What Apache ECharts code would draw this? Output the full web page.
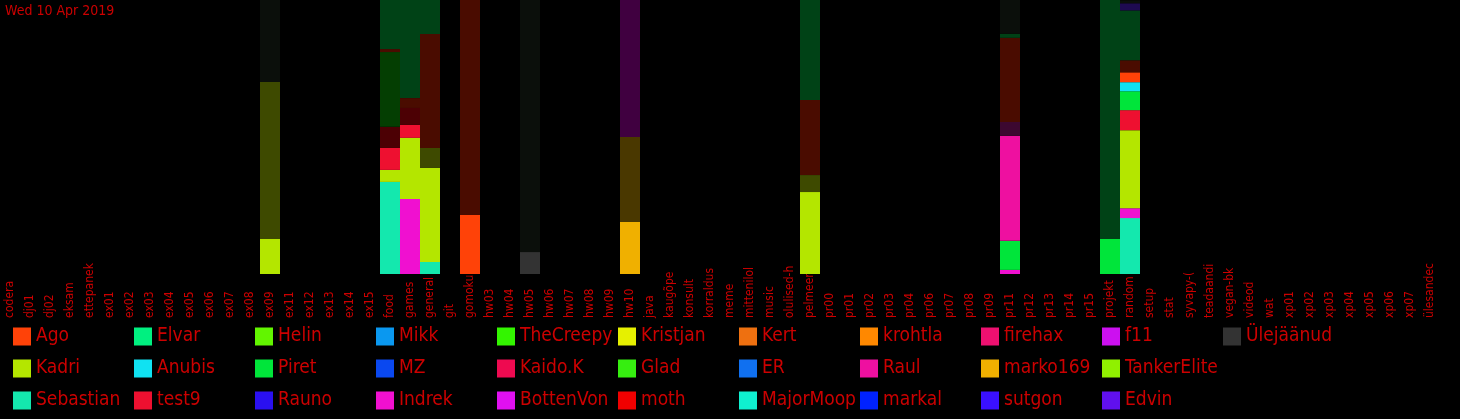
<!DOCTYPE html>
<html>
<head>
<meta charset="utf-8">
<script src="https://cdn.jsdelivr.net/npm/echarts@6/dist/echarts.min.js"></script>
<style>
html,body{margin:0;padding:0;background:#000;}
#chart{width:1460px;height:419px;}
</style>
</head>
<body>
<div id="chart"></div>
<script>
// ---- categories (x axis) ----
const categories = ["codera","dj01","dj02","eksam","ettepanek","ex01","ex02","ex03","ex04","ex05","ex06","ex07","ex08","ex09","ex11","ex12","ex13","ex14","ex15","food","games","general","git","gomoku","hw03","hw04","hw05","hw06","hw07","hw08","hw09","hw10","java","kaugõpe","konsult","korraldus","meme","mittenilol","music","olulised-h","pelmeeni","pr00","pr01","pr02","pr03","pr04","pr06","pr07","pr08","pr09","pr11","pr12","pr13","pr14","pr15","projekt","random","setup","stat","syvapy-(","teadaandi","vegan-bk","videod","wat","xp01","xp02","xp03","xp04","xp05","xp06","xp07","ülesandec"];

// ---- legend users & colours ----
const users = ["Ago","Kadri","Sebastian","Elvar","Anubis","test9","Helin","Piret","Rauno","Mikk","MZ","Indrek","TheCreepySh","Kaido.K","BottenVonBot","Kristjan","Glad","moth","Kert","ER","MajorMoopsy","krohtla","Raul","markal","firehax","marko169","sutgon","f11","TankerElite","Edvin","Ülejäänud"];
const userColors = ["#ff4208","#b4e600","#14e8ae","#00f080","#10e2f2","#ee1030","#62f500","#00e53a","#2a10f0","#0a98f0","#0a48f0","#f010d0","#33f500","#ee0a50","#e010f0","#e6f000","#36ee10","#f00000","#ee7010","#1070f0","#0ff0d0","#ff8800","#ee10a0","#0022ff","#ee1070","#f0b000","#3a10ff","#cc10f0","#90f000","#6010ee","#333333"];

// ---- bright segments (% of bar) ----
const sebastianNow = [["food",33.6],["general",4.4],["random",20.4]];
const indrekNow    = [["games",27.4],["pr11",1.5],["random",3.6]];
const kadriNow     = [["ex09",12.8],["food",4.4],["games",22.3],["general",34.3],["pelmeeni",29.9],["random",28.5]];
const test9Now     = [["food",8.0],["games",4.7],["random",7.3]];
const piretNow     = [["pr11",10.6],["projekt",12.8],["random",6.9]];
const raulNow      = [["pr11",38.3]];
const anubisNow    = [["random",3.3]];
const agoNow       = [["gomoku",21.5],["random",3.6]];
const marko169Now  = [["hw10",19.0]];
const restNow      = [["hw05",8.0]];

// ---- dark segments (% of bar) ----
const kadriPrev    = [["ex09",57.3],["general",7.3],["pelmeeni",6.2]];
const test9Prev    = [["food",7.7],["games",6.2]];
const gladPrev     = [["food",27.3]];
const raulPrev     = [["pr11",5.1]];
const marko169Prev = [["hw10",31.0]];
const agoPrev      = [["food",1.1],["games",3.6],["general",41.6],["gomoku",78.5],["pelmeeni",27.4],["pr11",30.7],["random",4.4]];
const piretPrev    = [["food",17.9],["games",35.8],["general",12.4],["pelmeeni",36.5],["pr11",1.5],["projekt",87.2],["random",18.2]];
const indrekPrev   = [["hw10",50.0]];
const edvinPrev    = [["random",2.6]];
const restPrev     = [["ex09",29.9],["hw05",92.0],["pr11",12.4],["random",1.1]];

const brightOrder = [
  ["Sebastian", sebastianNow], ["Indrek", indrekNow], ["Kadri", kadriNow], ["test9", test9Now],
  ["Piret", piretNow], ["Raul", raulNow], ["Anubis", anubisNow], ["Ago", agoNow],
  ["marko169", marko169Now], ["Ülejäänud", restNow]
];
const darkOrder = [
  ["Kadri ", "#3e4a00", kadriPrev], ["test9 ", "#4c0004", test9Prev], ["Glad ", "#043e02", gladPrev],
  ["Raul ", "#3c0830", raulPrev], ["marko169 ", "#4a3800", marko169Prev], ["Ago ", "#4a0c00", agoPrev],
  ["Piret ", "#004216", piretPrev], ["Indrek ", "#400040", indrekPrev], ["Edvin ", "#1e0a50", edvinPrev],
  ["Ülejäänud ", "#0b0f0b", restPrev]
];

const FONT = "'Liberation Sans Narrow','DejaVu Sans Condensed','Roboto Condensed','Liberation Sans',sans-serif";
const RED = "#cc0000";

function toData(pairs) {
  const m = new Map(pairs);
  return categories.map(c => (m.has(c) ? m.get(c) : 0));
}
function colorOf(name) { return userColors[users.indexOf(name)]; }

const series = [];
const used = new Set();
brightOrder.forEach(([name, vals]) => {
  used.add(name);
  series.push({ name, type: 'bar', stack: 'all', barWidth: '100%', data: toData(vals),
    itemStyle: { color: colorOf(name) }, emphasis: { disabled: true } });
});
users.forEach(name => {
  if (used.has(name)) return;
  series.push({ name, type: 'bar', stack: 'all', barWidth: '100%', data: toData([]),
    itemStyle: { color: colorOf(name) } });
});
darkOrder.forEach(([name, color, vals]) => {
  series.push({ name, type: 'bar', stack: 'all', barWidth: '100%', data: toData(vals),
    itemStyle: { color }, emphasis: { disabled: true } });
});

// legend: users fill columns of three, top to bottom
const legends = [];
for (let c = 0; c * 3 < users.length; c++) {
  legends.push({
    data: users.slice(c * 3, c * 3 + 3), orient: 'vertical',
    left: 13 + c * 121, top: 327, itemWidth: 18, itemHeight: 18, itemGap: 13,
    padding: 0, icon: 'rect',
    textStyle: { color: RED, fontSize: 19, lineHeight: 18, fontFamily: FONT, width: 97, overflow: 'truncate', ellipsis: '' }
  });
}

const chart = echarts.init(document.getElementById('chart'), null, { renderer: 'canvas' });
chart.setOption({
  backgroundColor: '#000',
  animation: false,
  title: { text: 'Wed 10 Apr 2019', left: 0, top: 0, padding: [4, 5],
    textStyle: { color: RED, fontSize: 14, fontWeight: 'normal', fontFamily: FONT } },
  legend: legends,
  grid: { left: 0, right: 20, top: 0, bottom: 145, containLabel: false },
  xAxis: {
    type: 'category', data: categories,
    axisLine: { show: false }, axisTick: { show: false }, splitLine: { show: false },
    axisLabel: { interval: 0, rotate: 90, align: 'left', verticalAlign: 'middle', margin: 44,
      color: RED, fontSize: 12, fontFamily: FONT, hideOverlap: false }
  },
  yAxis: { type: 'value', min: 0, max: 100, show: false, splitLine: { show: false } },
  series
});
</script>
</body>
</html>
